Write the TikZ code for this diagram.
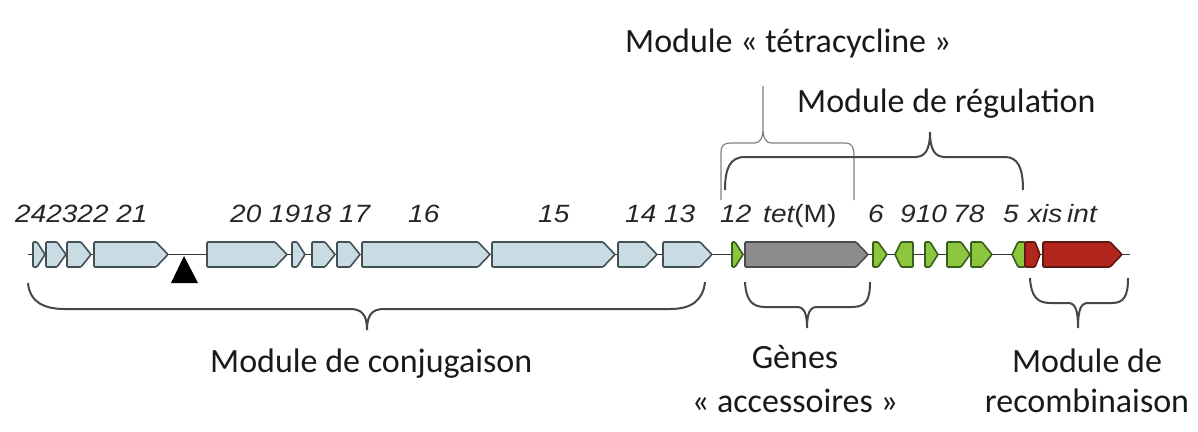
\documentclass[tikz,border=0pt]{standalone}
\usepackage{fontspec}
\setmainfont{Carlito}
\newfontfamily\genefont{Liberation Sans}
\definecolor{conjfill}{HTML}{CADCE3}
\definecolor{conjline}{HTML}{425056}
\definecolor{tetfill}{HTML}{8C8C8C}
\definecolor{tetline}{HTML}{4A4A4A}
\definecolor{regfill}{HTML}{8CC63E}
\definecolor{regline}{HTML}{375E1A}
\definecolor{recfill}{HTML}{B3261E}
\definecolor{recline}{HTML}{621812}
\tikzset{
	conj/.style={draw=conjline,fill=conjfill,line width=1.6pt},
	tetr/.style={draw=tetline,fill=tetfill,line width=1.6pt},
	regu/.style={draw=regline,fill=regfill,line width=1.6pt},
	reco/.style={draw=recline,fill=recfill,line width=1.6pt},
	genelabel/.style={font=\genefont\itshape\fontsize{25}{25}\selectfont,xscale=1.12,anchor=base west,inner sep=0pt,text=black!85},
	modlabel/.style={font=\fontsize{34}{44}\selectfont,inner sep=0pt,text=black!90},
	bracebold/.style={draw=black!72,line width=2pt},
	bracethin/.style={draw=black!50,line width=1.2pt}
}
% gene pointing right / left: [head]{x1}{x2}{style}
\newcommand{\geneR}[4][10]{\draw[#4,rounded corners=1pt] (#2,242) -- ({#3-#1},242) -- (#3,254.5) -- ({#3-#1},267) -- (#2,267) -- cycle;}
\newcommand{\geneL}[4][10]{\draw[#4,rounded corners=1pt] (#3,242) -- ({#2+#1},242) -- (#2,254.5) -- ({#2+#1},267) -- (#3,267) -- cycle;}
\begin{document}
\begin{tikzpicture}[x=1pt,y=-1pt]
	\useasboundingbox (0,0) rectangle (1198,431);
	\draw[line width=1.5pt,black!80] (28,254.5) -- (1130,254.5);
	\geneR[8]{33}{45}{conj}
	\geneR[9]{46}{66}{conj}
	\geneR{67}{91}{conj}
	\geneR[12]{94}{168}{conj}
	\geneR[12]{207}{287}{conj}
	\geneR[8]{292}{305}{conj}
	\geneR{312}{335}{conj}
	\geneR{337}{360}{conj}
	\geneR[12]{362}{490}{conj}
	\geneR[12]{492}{615}{conj}
	\geneR[12]{618}{657}{conj}
	\geneR[12]{663}{712}{conj}
	\geneR[8]{732}{743}{regu}
	\geneR[12]{745}{868}{tetr}
	\geneR[9]{873}{887}{regu}
	\geneL[6]{895}{913}{regu}
	\geneR[8]{925}{938}{regu}
	\geneR[9]{947}{970}{regu}
	\geneR{971}{992}{regu}
	\geneL[6]{1012}{1025}{regu}
	\geneR[5]{1025}{1040}{reco}
	\geneR[12]{1043}{1122}{reco}
	\fill[black] (184,256) -- (198,283) -- (171,283) -- cycle;
	\node[genelabel] (l24) at (15,222) {242322 21};
	\node[genelabel] (l20) at (230,222) {20 1918 17};
	\node[genelabel] (l16) at (408,222) {16};
	\node[genelabel] (l15) at (538,222) {15};
	\node[genelabel] (l14) at (625,222) {14 13};
	\node[genelabel] (l12) at (720,222) {12};
	\node[genelabel] (ltet) at (763,222) {tet{\upshape(M)}};
	\node[genelabel] (l6) at (868,222) {6};
	\node[genelabel] (l9) at (900,222) {910};
	\node[genelabel] (l7) at (953,222) {78};
	\node[genelabel] (l5) at (1003,222) {5};
	\node[genelabel] (lxis) at (1028,222) {xis};
	\node[genelabel] (lint) at (1067,222) {int};
	\draw[bracethin] (721,200) -- (721,152) .. controls (721,146) and (724,143) .. (730,143) -- (755,143) .. controls (760,143) and (763,138) .. (763,128) -- (763,86)
		(763,128) .. controls (763,138) and (766,143) .. (771,143) -- (846,143) .. controls (852,143) and (854,148) .. (854,155) -- (854,200);
	\draw[bracebold] (725,190) .. controls (725,168) and (730,157) .. (745,157) -- (915,157) .. controls (925,157) and (930,150) .. (930,132) .. controls (930,150) and (935,157) .. (945,157) -- (1005,157) .. controls (1018,157) and (1023,168) .. (1023,190);
	\draw[bracebold] (28,283) .. controls (30,303) and (45,309) .. (65,309) -- (350,309) .. controls (362,309) and (367,315) .. (367,330) .. controls (367,315) and (372,309) .. (384,309) -- (670,309) .. controls (692,309) and (703,300) .. (705,282);
	\draw[bracebold] (745,282) .. controls (746,300) and (752,307) .. (765,307) -- (797,307) .. controls (804,307) and (807,313) .. (807,328) .. controls (807,313) and (810,307) .. (817,307) -- (852,307) .. controls (866,307) and (870,300) .. (870,282);
	\draw[bracebold] (1030,278) .. controls (1031,296) and (1037,303) .. (1050,303) -- (1068,303) .. controls (1075,303) and (1078,309) .. (1078,328) .. controls (1078,309) and (1081,303) .. (1088,303) -- (1112,303) .. controls (1124,303) and (1128,296) .. (1128,278);
	\node[modlabel,anchor=base west] (tetmod) at (625,52) {Module « tétracycline »};
	\node[modlabel,anchor=base west] (regmod) at (797,112) {Module de régulation};
	\node[modlabel,anchor=base west] (conjmod) at (210,372) {Module de conjugaison};
	\node[modlabel,anchor=base] (acc1) at (795,368) {Gènes};
	\node[modlabel,anchor=base] (acc2) at (795,412) {« accessoires »};
	\node[modlabel,anchor=base] (rec1) at (1087,372) {Module de};
	\node[modlabel,anchor=base] (rec2) at (1087,412) {recombinaison};
\end{tikzpicture}
\end{document}
